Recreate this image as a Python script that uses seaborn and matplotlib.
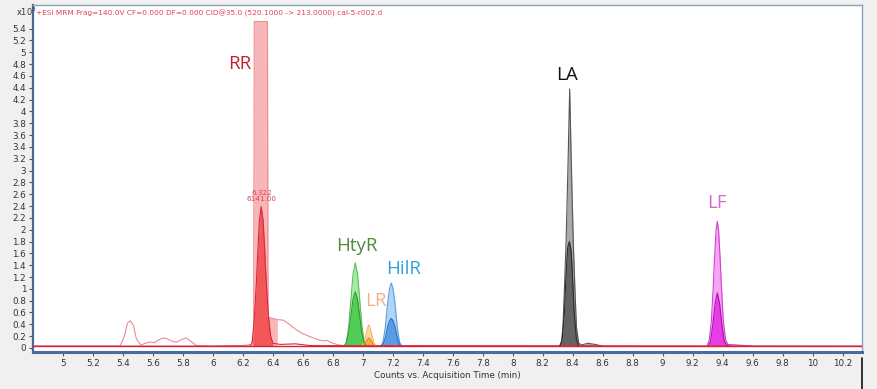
import numpy as np
import pandas as pd
import matplotlib
matplotlib.use("Agg")
import matplotlib.pyplot as plt
import seaborn as sns

# ---------------- data (counts x10^3 vs time, min) ----------------
rr_hi_t = [4.80, 5.20, 5.38, 5.41, 5.43, 5.45, 5.47, 5.49, 5.52, 5.55, 5.58, 5.61, 5.64, 5.67,
           5.70, 5.73, 5.76, 5.79, 5.82, 5.85, 5.89, 6.00, 6.10, 6.20, 6.26, 6.272, 6.276,
           6.364, 6.368, 6.40, 6.43, 6.47, 6.50, 6.55, 6.60, 6.65, 6.70, 6.74, 6.76, 6.79,
           6.84, 6.90, 7.50, 8.50, 9.50, 10.33]
rr_hi_y = [0.03, 0.03, 0.03, 0.20, 0.42, 0.46, 0.38, 0.15, 0.05, 0.08, 0.10, 0.09, 0.14, 0.17,
           0.15, 0.11, 0.10, 0.14, 0.17, 0.12, 0.04, 0.03, 0.04, 0.04, 0.06, 0.30, 5.52,
           5.52, 0.52, 0.50, 0.48, 0.47, 0.42, 0.32, 0.24, 0.19, 0.14, 0.12, 0.13, 0.09,
           0.05, 0.03, 0.03, 0.03, 0.03, 0.03]

rr_lo_t = [4.80, 6.25, 6.262, 6.275, 6.29, 6.30, 6.31, 6.322, 6.335, 6.345, 6.355, 6.37,
           6.385, 6.40, 6.45, 6.55, 6.65, 10.33]
rr_lo_y = [0.03, 0.03, 0.10, 0.45, 1.10, 1.65, 2.15, 2.39, 2.15, 1.70, 1.15, 0.55,
           0.20, 0.08, 0.06, 0.07, 0.04, 0.03]

htyr_hi_t = [6.875, 6.89, 6.905, 6.92, 6.935, 6.95, 6.965, 6.98, 6.995, 7.01, 7.025]
htyr_hi_y = [0.03, 0.10, 0.35, 0.80, 1.25, 1.44, 1.25, 0.80, 0.35, 0.10, 0.03]
htyr_lo_t = [6.875, 6.89, 6.905, 6.92, 6.935, 6.95, 6.965, 6.98, 6.995, 7.01, 7.025]
htyr_lo_y = [0.03, 0.08, 0.24, 0.53, 0.83, 0.95, 0.82, 0.52, 0.23, 0.07, 0.03]

lr_hi_t = [6.99, 7.005, 7.018, 7.03, 7.04, 7.05, 7.062, 7.075, 7.09]
lr_hi_y = [0.03, 0.08, 0.20, 0.33, 0.39, 0.33, 0.20, 0.08, 0.03]
lr_lo_t = [6.995, 7.01, 7.025, 7.04, 7.055, 7.07, 7.085]
lr_lo_y = [0.03, 0.06, 0.13, 0.17, 0.13, 0.06, 0.03]

hilr_hi_t = [7.12, 7.135, 7.15, 7.165, 7.178, 7.19, 7.202, 7.215, 7.23, 7.245, 7.26]
hilr_hi_y = [0.03, 0.10, 0.35, 0.75, 1.00, 1.10, 1.00, 0.75, 0.35, 0.10, 0.03]
hilr_lo_t = [7.12, 7.135, 7.15, 7.165, 7.178, 7.19, 7.202, 7.215, 7.23, 7.245, 7.26]
hilr_lo_y = [0.03, 0.06, 0.17, 0.35, 0.46, 0.50, 0.46, 0.35, 0.17, 0.06, 0.03]

la_hi_t = [8.31, 8.325, 8.335, 8.345, 8.356, 8.368, 8.38, 8.392, 8.404, 8.415, 8.425, 8.44,
           8.46, 8.50, 8.55, 8.60]
la_hi_y = [0.03, 0.08, 0.36, 1.00, 1.80, 3.00, 4.38, 3.00, 1.80, 1.00, 0.36, 0.08,
           0.05, 0.08, 0.06, 0.03]
la_lo_t = [8.315, 8.33, 8.345, 8.355, 8.367, 8.378, 8.39, 8.40, 8.41, 8.425, 8.44]
la_lo_y = [0.03, 0.15, 0.60, 1.20, 1.70, 1.80, 1.65, 1.15, 0.60, 0.15, 0.03]

lf_hi_t = [9.295, 9.31, 9.325, 9.337, 9.347, 9.357, 9.365, 9.373, 9.383, 9.393, 9.405,
           9.42, 9.435, 9.50, 9.60]
lf_hi_y = [0.03, 0.12, 0.45, 1.00, 1.55, 2.00, 2.14, 2.00, 1.55, 1.00, 0.45,
           0.14, 0.06, 0.05, 0.03]
lf_lo_t = [9.305, 9.32, 9.335, 9.35, 9.365, 9.38, 9.395, 9.41, 9.425, 9.44]
lf_lo_y = [0.03, 0.12, 0.40, 0.75, 0.93, 0.75, 0.40, 0.13, 0.05, 0.04]

compound_names = ["RR", "HtyR", "LR", "HilR", "LA", "LF"]
label_x = [6.18, 6.96, 7.085, 7.27, 8.36, 9.36]
label_y = [4.80, 1.72, 0.79, 1.33, 4.61, 2.46]

y_ticks = [round(0.2 * i, 1) for i in range(28)]
x_ticks = [round(5 + 0.2 * i, 1) for i in range(27)]

title_text = "+ESI MRM Frag=140.0V CF=0.000 DF=0.000 CID@35.0 (520.1000 -> 213.0000) cal-5-r002.d"
xlabel_text = "Counts vs. Acquisition Time (min)"
peak_note = "6.322\n6141.00"

# ---------------- styling ----------------
sns.set_theme(style="white")
plt.rcParams["font.family"] = ["DejaVu Sans"]

fig = plt.figure(figsize=(8.77, 3.89), dpi=100, facecolor="#f0f0f0")
ax = fig.add_axes([33 / 877, 1 - 352 / 389, (862 - 33) / 877, (352 - 5) / 389])
ax.set_facecolor("white")

BASE = 0.03

traces = [
    # t, y, line, fill, alpha, fill window
    (rr_hi_t, rr_hi_y, "#ec8a92", "#f7a4a6", 0.8, (6.272, 6.43)),
    (htyr_hi_t, htyr_hi_y, "#5cbf5c", "#9be89b", 0.9, None),
    (lr_hi_t, lr_hi_y, "#f2b46a", "#fcd39c", 0.9, None),
    (hilr_hi_t, hilr_hi_y, "#5a9fe2", "#a9cff7", 0.9, None),
    (la_hi_t, la_hi_y, "#555555", "#a6a6a6", 0.95, None),
    (lf_hi_t, lf_hi_y, "#d040d0", "#f59af2", 0.9, None),
    (rr_lo_t, rr_lo_y, "#d42a3c", "#f24848", 0.85, (6.262, 6.40)),
    (htyr_lo_t, htyr_lo_y, "#2f9e35", "#45c84a", 0.85, None),
    (lr_lo_t, lr_lo_y, "#e08a20", "#f2a638", 0.85, None),
    (hilr_lo_t, hilr_lo_y, "#2a6fc8", "#4a93e4", 0.85, None),
    (la_lo_t, la_lo_y, "#2a2a2a", "#5c5c5c", 0.9, None),
    (lf_lo_t, lf_lo_y, "#b010b0", "#e22ee2", 0.85, None),
]

for t, y, lc, fc, a, win in traces:
    t = np.asarray(t)
    y = np.asarray(y)
    if win is None:
        mask = np.ones_like(t, dtype=bool)
    else:
        mask = (t >= win[0] - 1e-9) & (t <= win[1] + 1e-9)
    ax.fill_between(t, y, BASE, where=mask, color=fc, alpha=a, linewidth=0, zorder=2)

for t, y, lc, fc, a, win in traces:
    sns.lineplot(x=t, y=y, ax=ax, color=lc, linewidth=0.8, zorder=3, legend=False)

# baseline (red) on top
ax.plot([4.8, 10.33], [0.035, 0.035], color="#d8203c", linewidth=1.0, zorder=4)

label_colors = ["#c4202c", "#4f8a3c", "#f2b088", "#2aa2d8", "#111111", "#d468d4"]
for name, lx, ly, c in zip(compound_names, label_x, label_y, label_colors):
    ax.text(lx, ly, name, color=c, fontsize=13.5, ha="center", va="center",
            family=["Open Sans", "DejaVu Sans"], zorder=5)

ax.text(6.327, 2.57, peak_note, color="#e0404c", fontsize=5.2, ha="center", va="center",
        linespacing=0.95, zorder=5)

ax.text(0.004, 0.985, title_text, transform=ax.transAxes, color="#e0405a", fontsize=5.3,
        ha="left", va="top", zorder=5)

fig.text(16 / 877, 1 - 12 / 389, "x10$^3$", fontsize=6, color="#333333", ha="left", va="center")

ax.set_xlim(4.8, 10.33)
ax.set_ylim(-0.068, 5.80)
ax.set_xticks(x_ticks)
ax.set_xticklabels([f"{v:g}" for v in x_ticks])
ax.set_yticks(y_ticks)
ax.set_yticklabels([f"{v:g}" for v in y_ticks])
ax.tick_params(axis="both", labelsize=6.3, labelcolor="#333333", color="#555555",
               length=3, width=0.8, pad=2, direction="out", bottom=True, left=True)
ax.set_xlabel(xlabel_text, fontsize=6.3, color="#333333", labelpad=2)
ax.set_ylabel("")

for side, lw, col in [("left", 1.6, "#4b6890"), ("bottom", 2.2, "#4a6c9c"),
                      ("top", 1.0, "#8aa0b8"), ("right", 1.0, "#8aa0b8")]:
    ax.spines[side].set_visible(True)
    ax.spines[side].set_linewidth(lw)
    ax.spines[side].set_color(col)

# small dark marker line at lower right (screenshot edge)
fig.add_artist(plt.Line2D([862 / 877, 862 / 877], [0, 1 - 358 / 389],
                          transform=fig.transFigure, color="#111111", linewidth=1.2))

fig.savefig("out.png", dpi=100, facecolor=fig.get_facecolor())
